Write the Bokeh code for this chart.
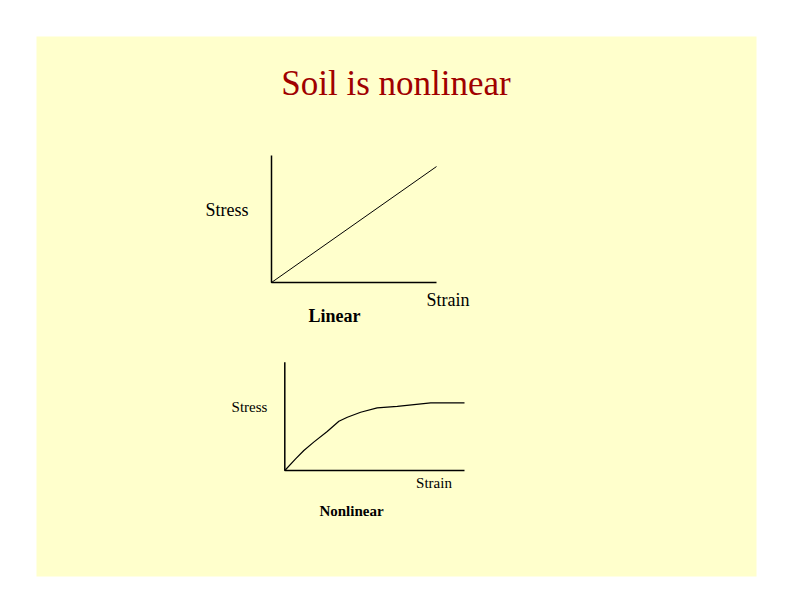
from bokeh.plotting import figure
from bokeh.models import Range1d, Label
from bokeh.embed import file_html
from bokeh.resources import INLINE

# ---- data ----
title_text = "Soil is nonlinear"
x_label = "Strain"
y_label = "Stress"
linear_name = "Linear"
nonlinear_name = "Nonlinear"

strain_axis_max = 10.0
stress_axis_max = 10.0

linear_strain = [0.0, 10.0]
linear_stress = [0.0, 9.13]

nonlinear_strain = [0.0, 0.6, 1.06, 1.61, 2.36, 3.01, 3.48, 4.22, 5.14, 6.26, 8.12, 10.0]
nonlinear_stress = [0.0, 1.08, 1.85, 2.62, 3.6, 4.55, 4.92, 5.38, 5.78, 5.93, 6.24, 6.24]

# ---- layout ----
FW, FH = 720, 540
BL, BT, BR, BB = 36, 36, 28, 28
W, H = FW + BL + BR, FH + BT + BB
SERIF = "Liberation Serif"

p = figure(width=W, height=H, output_backend="svg", toolbar_location=None,
           x_range=Range1d(0, FW), y_range=Range1d(0, FH),
           x_axis_location=None, y_axis_location=None,
           min_border_left=BL, min_border_right=BR,
           min_border_top=BT, min_border_bottom=BB)
p.grid.visible = False
p.outline_line_color = None
p.background_fill_color = "#FFFFCC"
p.border_fill_color = "white"
p.title.visible = False


def add_panel(key, left, top, width, height):
    """Create ranges so the 0..max data box sits at the given frame box (px from top-left)."""
    sx = width / strain_axis_max
    x0 = -left / sx
    p.extra_x_ranges[key + "_x"] = Range1d(x0, x0 + FW / sx)
    sy = height / stress_axis_max
    bottom = FH - (top + height)
    y0 = -bottom / sy
    p.extra_y_ranges[key + "_y"] = Range1d(y0, y0 + FH / sy)
    kw = dict(x_range_name=key + "_x", y_range_name=key + "_y")
    # L-shaped axes
    p.line([0, 0, strain_axis_max], [stress_axis_max, 0, 0], line_color="black",
           line_width=1.5, **kw)
    return kw


kw_lin = add_panel("lin", 235, 119, 165, 127)
p.line(linear_strain, linear_stress, line_color="black", line_width=1, **kw_lin)

kw_non = add_panel("non", 248.3, 325.7, 179.7, 108.3)
p.line(nonlinear_strain, nonlinear_stress, line_color="black", line_width=1.2, **kw_non)


def lab(text, x, y, size, bold=False, color="black"):
    # small upward correction for the svg baseline placement
    p.add_layout(Label(x=x, y=y + 0.33 * size, text=text, text_align="center",
                       text_baseline="alphabetic", text_font=SERIF,
                       text_font_size=f"{size}px",
                       text_font_style="bold" if bold else "normal",
                       text_color=color))


lab(title_text, 359.5, 481, 35, color="#A00000")
lab(y_label, 190.5, 361, 18)
lab(x_label, 411.5, 271, 18)
lab(linear_name, 298, 254.3, 18, bold=True)
lab(y_label, 213, 165, 15)
lab(x_label, 397.5, 88.3, 15)
lab(nonlinear_name, 315, 60.3, 15, bold=True)

open("out.html", "w").write(file_html(p, INLINE))
